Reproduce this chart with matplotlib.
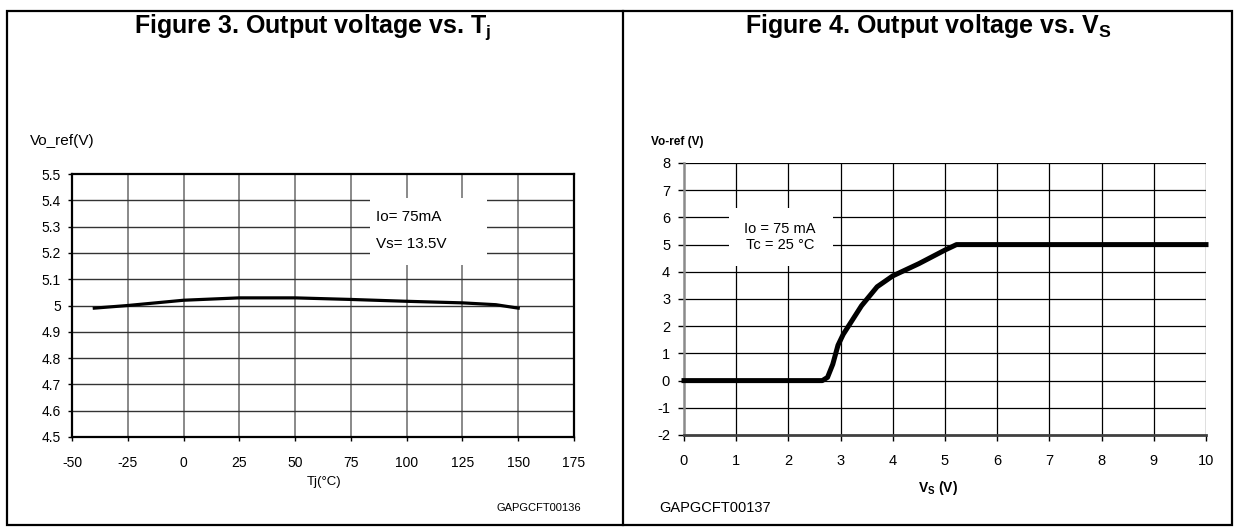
import matplotlib
matplotlib.use("Agg")
import matplotlib.pyplot as plt
from matplotlib.patches import Rectangle
from matplotlib.lines import Line2D

plt.rcParams['font.family'] = ['Liberation Sans', 'DejaVu Sans']
plt.rcParams['axes.unicode_minus'] = False

# Figure 3 data: output voltage vs junction temperature
tj = [-40, -25, 0, 25, 50, 75, 100, 125, 140, 150]
vo_tj = [4.99, 5.0, 5.02, 5.029, 5.029, 5.023, 5.016, 5.01, 5.003, 4.99]
tj_ticks = [-50, -25, 0, 25, 50, 75, 100, 125, 150, 175]
vo_ticks = [4.5, 4.6, 4.7, 4.8, 4.9, 5.0, 5.1, 5.2, 5.3, 5.4, 5.5]
vo_tick_labels = ['4.5', '4.6', '4.7', '4.8', '4.9', '5', '5.1', '5.2', '5.3', '5.4', '5.5']

# Figure 4 data: output voltage vs supply voltage
vs = [0, 2.65, 2.75, 2.85, 2.95, 3.05, 3.2, 3.4, 3.7, 4.0, 4.5, 5.0, 5.22, 10]
vo_vs = [0, 0, 0.12, 0.6, 1.3, 1.7, 2.15, 2.75, 3.45, 3.85, 4.3, 4.8, 5.0, 5.0]
vs_ticks = list(range(0, 11))
vref_ticks = list(range(-2, 9))

W, H = 1234, 527
fig = plt.figure(figsize=(W / 100, H / 100), dpi=100)


def fx(px):
    return px / W


def fy(py):
    return 1 - py / H


# outer frame and divider
fig.add_artist(Rectangle((fx(7), fy(525)), fx(1232) - fx(7), fy(11) - fy(525),
                         fill=False, lw=1.6, ec='black', transform=fig.transFigure))
fig.add_artist(Line2D([fx(623), fx(623)], [fy(11), fy(525)], lw=1.6, color='black',
                      transform=fig.transFigure))

# ---------------- Figure 3 ----------------
ax1 = fig.add_axes([fx(72), fy(437), fx(574) - fx(72), fy(174) - fy(437)])
ax1.set_xlim(-50, 175)
ax1.set_ylim(4.5, 5.5)
ax1.set_xticks(tj_ticks)
ax1.set_xticklabels([str(t) for t in tj_ticks])
ax1.set_yticks(vo_ticks)
ax1.set_yticklabels(vo_tick_labels)
ax1.tick_params(labelsize=10, length=3, width=1, pad=5)
ax1.tick_params(axis='x', pad=11)
for s in ax1.spines.values():
    s.set_linewidth(1.6)
for t in tj_ticks[1:-1]:
    ax1.axvline(t, color='#6a6a6a', lw=1.1, zorder=1)
for v in vo_ticks[1:-1]:
    ax1.axhline(v, color='#333333', lw=1.0, zorder=1)
ax1.add_patch(Rectangle((83.6, 5.154), 136 - 83.6, 5.409 - 5.154, fc='white', ec='none', zorder=2))
ax1.plot(tj, vo_tj, color='black', lw=2.3, zorder=3)
ax1.text(86.2, 5.338, 'Io= 75mA', fontsize=11, va='center', ha='left', zorder=4)
ax1.text(86.2, 5.235, 'Vs= 13.5V', fontsize=11, va='center', ha='left', zorder=4)

fig.text(fx(313), fy(33), 'Figure 3. Output voltage vs. T$_\\mathregular{j}$', fontsize=18,
         fontweight='bold', ha='center', va='baseline')
fig.text(fx(30), fy(141), 'Vo_ref(V)', fontsize=11, ha='left', va='center')
fig.text(fx(324), fy(482), 'Tj(°C)', fontsize=9.5, ha='center', va='center')
fig.text(fx(581), fy(508), 'GAPGCFT00136', fontsize=8, ha='right', va='center')

# ---------------- Figure 4 ----------------
ax2 = fig.add_axes([fx(684), fy(435), fx(1206) - fx(684), fy(163) - fy(435)])
ax2.set_xlim(0, 10)
ax2.set_ylim(-2, 8)
ax2.set_xticks(vs_ticks)
ax2.set_yticks(vref_ticks)
ax2.tick_params(labelsize=10.5, length=4, width=1, pad=6)
ax2.tick_params(axis='x', pad=10)
ax2.spines['top'].set_visible(False)
ax2.spines['right'].set_visible(False)
ax2.spines['left'].set_color('#8a8a8a')
ax2.spines['left'].set_linewidth(1.8)
ax2.spines['bottom'].set_color('#404040')
ax2.spines['bottom'].set_linewidth(2.0)
for t in vs_ticks[1:]:
    ax2.axvline(t, color='black', lw=0.9, zorder=1)
for v in vref_ticks[1:]:
    ax2.axhline(v, color='black', lw=0.9, zorder=1)
ax2.add_patch(Rectangle((0.86, 4.21), 2.85 - 0.86, 6.35 - 4.21, fc='white', ec='none', zorder=2))
ax2.plot(vs, vo_vs, color='black', lw=3.6, zorder=3, solid_joinstyle='round', clip_on=False)
ax2.text(1.84, 5.57, 'Io = 75 mA', fontsize=10.5, ha='center', va='center', zorder=4)
ax2.text(1.84, 4.99, 'Tc = 25 °C', fontsize=10.5, ha='center', va='center', zorder=4)

fig.text(fx(928), fy(33), 'Figure 4. Output voltage vs. V$_\\mathregular{S}$', fontsize=18,
         fontweight='bold', ha='center', va='baseline')
fig.text(fx(651), fy(142), 'Vo-ref (V)', fontsize=8.5, fontweight='bold', ha='left', va='center')
fig.text(fx(938), fy(488), 'V$_\\mathregular{S}$ (V)', fontsize=10, fontweight='bold',
         ha='center', va='center')
fig.text(fx(659), fy(508), 'GAPGCFT00137', fontsize=10.5, ha='left', va='center')

fig.savefig('out.png', dpi=100)
